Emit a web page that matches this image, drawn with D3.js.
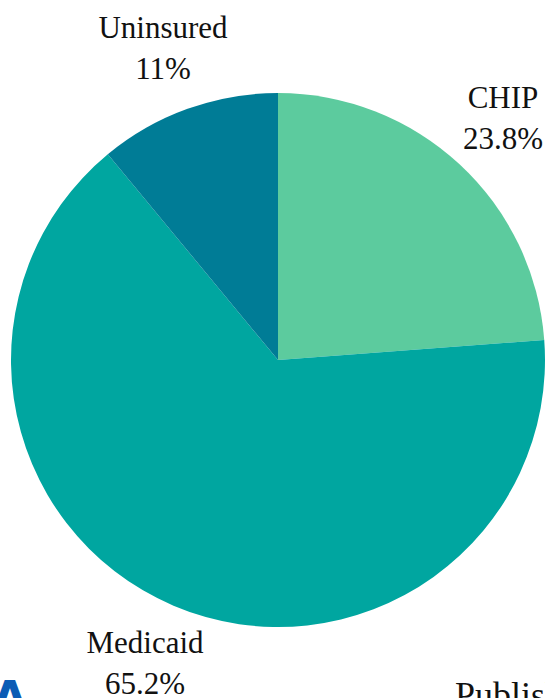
<!DOCTYPE html>
<html>
<head>
<meta charset="utf-8">
<script src="https://cdn.jsdelivr.net/npm/d3@7"></script>
<style>
html,body{margin:0;padding:0;background:#fff;overflow:hidden;}
svg{display:block;}
</style>
</head>
<body>
<svg id="chart" width="545" height="698"></svg>
<script>
const categories = ["CHIP", "Medicaid", "Uninsured"];
const values = [23.8, 65.2, 11];
const valueLabels = ["23.8%", "65.2%", "11%"];
const colors = ["#5ccb9e", "#00a6a0", "#007c96"];

const svg = d3.select("#chart");
const cx = 278, cy = 360, r = 267;
const font = "'Liberation Serif', 'DejaVu Serif', serif";

const pie = d3.pie().sort(null).value(d => d.value);
const data = categories.map((c, i) => ({name: c, value: values[i], label: valueLabels[i], color: colors[i]}));
const arcs = pie(data);
const arc = d3.arc().innerRadius(0).outerRadius(r);

const g = svg.append("g").attr("transform", `translate(${cx},${cy})`);
g.selectAll("path").data(arcs).enter().append("path")
  .attr("d", arc)
  .attr("fill", d => d.data.color);

const labelPos = {
  "CHIP": [503, 108],
  "Medicaid": [145, 653],
  "Uninsured": [163, 38]
};
const lg = svg.append("g").attr("font-family", font).attr("font-size", 31).attr("fill", "#111").attr("text-anchor", "middle");
arcs.forEach(a => {
  const p = labelPos[a.data.name];
  const t = lg.append("text").attr("x", p[0]).attr("y", p[1]);
  t.append("tspan").attr("x", p[0]).text(a.data.name);
  t.append("tspan").attr("x", p[0]).attr("dy", 41).text(a.data.label);
});

svg.append("text").attr("x", -8).attr("y", 714)
  .attr("font-family", "'DejaVu Sans', sans-serif").attr("font-weight", "bold")
  .attr("font-size", 46).attr("fill", "#0b5cb5").text("A");
svg.append("text").attr("x", 455).attr("y", 707)
  .attr("font-family", font).attr("font-size", 36).attr("fill", "#111").text("Published");
</script>
</body>
</html>
